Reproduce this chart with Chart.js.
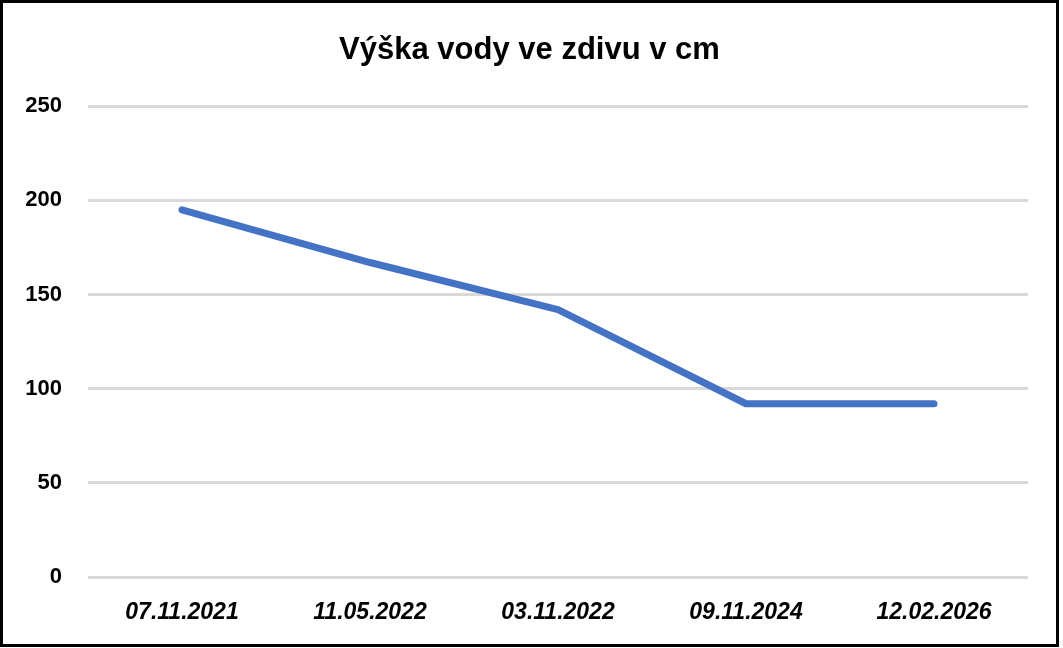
<!DOCTYPE html>
<html>
<head>
<meta charset="utf-8">
<script src="https://cdn.jsdelivr.net/npm/chart.js@4"></script>
<style>
  html, body { margin: 0; padding: 0; background: #fff; }
  #wrap {
    position: absolute; left: 0; top: 0;
    width: 1059px; height: 647px;
    border: 3px solid #000; box-sizing: border-box;
  }
  #chart { display: block; }
</style>
</head>
<body>
<div id="wrap"><canvas id="chart" width="1053" height="641"></canvas></div>
<script>
// VÝŠKA VODY VE ZDIVU
const dates = ["07.11.2021", "11.05.2022", "03.11.2022", "09.11.2024", "12.02.2026"];
const heights = [195, 167, 142, 92, 92];
const yTicks = [0, 50, 100, 150, 200, 250];

const fontFamily = "'Liberation Sans', sans-serif";

new Chart(document.getElementById("chart"), {
  type: "line",
  data: {
    labels: dates,
    datasets: [
      {
        label: "Výška vody",
        data: heights,
        borderColor: "#4472c4",
        borderWidth: 7,
        borderCapStyle: "round",
        borderJoinStyle: "round",
        pointRadius: 0,
        tension: 0,
        fill: false
      }
    ]
  },
  options: {
    responsive: false,
    animation: false,
    layout: { padding: 0 },
    plugins: {
      legend: { display: false },
      tooltip: { enabled: false },
      title: {
        display: true,
        text: "Výška vody ve zdivu v cm",
        color: "#000",
        font: { family: fontFamily, size: 31, weight: "bold" },
        padding: { top: 29, bottom: 37 }
      }
    },
    scales: {
      x: {
        offset: true,
        grid: { display: false },
        border: { display: false },
        ticks: {
          color: "#000",
          font: { family: fontFamily, size: 23, weight: "bold", style: "italic" },
          padding: 14,
          maxRotation: 0
        },
        afterFit(scale) { scale.height = 67; }
      },
      y: {
        min: 0,
        max: 250,
        afterBuildTicks(scale) { scale.ticks = yTicks.map(v => ({ value: v })); },
        grid: { color: "#d9d9d9", lineWidth: 3, drawTicks: false },
        border: { display: false },
        ticks: {
          color: "#000",
          font: { family: fontFamily, size: 22, weight: "bold" },
          padding: 26
        },
        afterFit(scale) { scale.width = 85; }
      },
      // empty right margin
      yRight: {
        position: "right",
        min: 0,
        max: 250,
        grid: { display: false },
        border: { display: false },
        ticks: { display: false },
        afterFit(scale) { scale.width = 28; }
      }
    }
  }
});
</script>
</body>
</html>
